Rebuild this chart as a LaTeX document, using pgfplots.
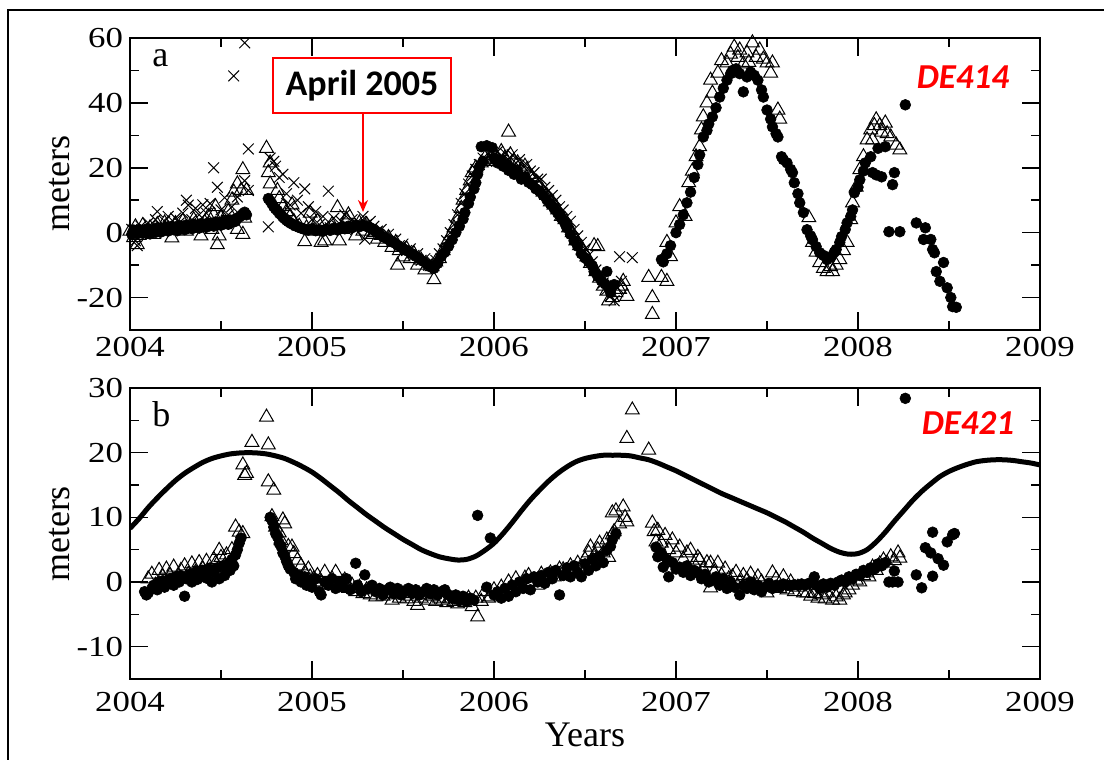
\documentclass[border=0pt]{standalone}
\usepackage{pgfplots}
\pgfplotsset{compat=1.18}
\usepackage{fontspec}
\setmainfont{Liberation Serif}
\newfontfamily\tickfont[FakeStretch=1.2]{Liberation Serif}
\newfontfamily\calib{Carlito}
\usetikzlibrary{arrows.meta}
\definecolor{rd}{RGB}{255,0,0}
\pgfplotsset{
  panel/.style={
    anchor=south west, scale only axis, width=455pt,
    xmin=2004, xmax=2009,
    xtick={2004,2005,2006,2007,2008,2009}, minor x tick num=1,
    minor y tick num=1,
    tick align=inside, major tick length=9pt, minor tick length=4.5pt,
    axis line style={line width=0.75pt}, every tick/.style={line width=0.75pt, black},
    /pgf/number format/assume math mode=true,
    /pgf/number format/1000 sep={},
    tick label style={font=\tickfont\fontsize{14.5}{16}\selectfont},
    clip mode=individual,
  },
  circ/.style={only marks, mark=*, mark size=2.7pt, mark options={draw=black, fill=black, line width=0.3pt}},
  tri/.style={only marks, mark=triangle, mark size=4pt, mark options={draw=black, line width=0.5pt}},
  crs/.style={only marks, mark=x, mark size=3.8pt, mark options={draw=black, line width=0.5pt}},
}
\begin{document}
\begin{tikzpicture}
% ---------------- panel a ----------------
\begin{axis}[panel, at={(65pt,215pt)}, height=146pt, ymin=-30, ymax=60, ytick={-20,0,20,40,60}]
\addplot[circ] coordinates {
(2004.01,-0.5)(2004.02,0.8)(2004.03,0.2)(2004.04,-0.3)(2004.05,1.0)(2004.06,0.5)(2004.07,-0.2)(2004.08,0.9)(2004.09,0.3)(2004.10,1.2)
(2004.11,-0.4)(2004.12,0.6)(2004.13,1.0)(2004.14,0.1)(2004.15,1.5)(2004.16,0.7)(2004.17,0.2)(2004.18,1.3)(2004.19,0.8)(2004.20,1.6)
(2004.21,0.5)(2004.22,1.1)(2004.23,2.0)(2004.24,0.9)(2004.25,1.4)(2004.26,0.6)(2004.27,2.2)(2004.28,1.3)(2004.29,1.8)(2004.30,0.9)
(2004.31,2.4)(2004.32,1.5)(2004.33,2.0)(2004.34,1.2)(2004.35,2.6)(2004.36,1.8)(2004.37,2.3)(2004.38,1.4)(2004.39,2.8)(2004.40,2.0)
(2004.41,2.5)(2004.42,1.7)(2004.43,3.0)(2004.44,2.2)(2004.45,2.8)(2004.46,2.0)(2004.47,3.3)(2004.48,2.5)(2004.49,3.1)(2004.50,2.3)
(2004.51,3.5)(2004.52,2.8)(2004.53,3.4)(2004.54,2.6)(2004.55,3.9)(2004.56,3.2)(2004.57,4.0)(2004.58,3.5)(2004.59,4.5)(2004.60,4.8)
(2004.61,5.2)(2004.62,5.8)(2004.63,6.3)(2004.64,5.5)
(2004.76,10.5)(2004.77,9.8)(2004.78,8.9)(2004.79,8.0)(2004.80,7.3)(2004.81,6.8)(2004.82,6.0)(2004.83,5.5)(2004.84,4.8)(2004.85,4.3)
(2004.86,3.8)(2004.87,3.4)(2004.88,3.0)(2004.89,2.7)(2004.90,2.4)(2004.91,2.1)(2004.92,1.9)(2004.93,1.6)(2004.94,1.4)(2004.95,1.3)
(2004.96,1.0)(2004.98,0.8)(2005.00,1.2)(2005.02,0.6)(2005.04,0.9)(2005.06,0.4)(2005.08,1.1)(2005.10,0.7)(2005.12,1.4)(2005.14,0.8)
(2005.16,1.6)(2005.18,1.2)(2005.20,2.0)(2005.22,1.5)(2005.24,2.3)(2005.26,1.8)(2005.28,2.4)(2005.30,1.9)(2005.32,1.5)(2005.34,0.8)
(2005.33,1.2)(2005.35,0.3)(2005.37,-0.5)(2005.39,-1.2)(2005.41,-1.8)(2005.43,-2.6)(2005.45,-3.1)(2005.47,-3.9)(2005.49,-4.5)(2005.51,-5.2)
(2005.53,-5.8)(2005.55,-6.5)(2005.57,-7.3)(2005.59,-8.0)(2005.61,-8.8)(2005.63,-9.6)(2005.65,-10.5)(2005.67,-11.0)(2005.69,-9.5)(2005.71,-7.4)
(2005.73,-6.0)(2005.75,-4.2)(2005.77,-2.2)(2005.79,0.0)(2005.81,2.0)(2005.83,4.2)(2005.84,6.2)(2005.86,9.0)(2005.87,11.0)(2005.89,13.5)
(2005.90,15.4)(2005.91,18.0)(2005.92,20.3)(2005.94,22.0)(2005.93,26.5)(2005.96,26.8)(2005.99,26.2)(2006.00,23.0)(2006.02,21.5)(2006.04,22.3)
(2006.05,20.5)(2006.07,21.0)(2006.08,19.2)(2006.10,19.8)(2006.11,18.0)(2006.13,18.8)(2006.15,16.5)(2006.17,17.2)(2006.19,15.5)(2006.21,14.8)
(2006.23,13.5)(2006.25,12.8)(2006.27,11.5)(2006.29,10.2)(2006.31,8.8)(2006.33,7.5)(2006.35,6.0)(2006.37,4.5)(2006.39,2.8)(2006.40,1.5)
(2006.42,-0.5)(2006.44,-2.5)(2006.46,-4.2)(2006.48,-6.5)(2006.50,-7.8)(2006.52,-9.0)(2006.54,-10.2)(2006.55,-12.0)(2006.57,-13.5)(2006.59,-14.8)
(2006.61,-15.8)(2006.63,-17.0)(2006.64,-18.5)(2006.66,-16.0)(2006.62,-12.0)
(2006.92,-8.3)(2006.93,-9.0)(2006.95,-6.5)(2006.97,-4.0)(2007.00,0.0)(2007.02,2.5)(2007.04,5.5)(2007.06,9.2)(2007.08,12.5)(2007.10,17.0)
(2007.12,21.0)(2007.13,24.0)(2007.15,29.5)(2007.17,31.5)(2007.18,33.5)(2007.20,35.7)(2007.22,38.5)(2007.24,41.8)(2007.26,44.5)(2007.28,47.0)
(2007.30,49.0)(2007.31,50.0)(2007.33,50.5)(2007.35,49.0)(2007.37,43.4)(2007.39,48.0)(2007.41,49.5)(2007.43,48.5)(2007.45,47.0)(2007.47,44.0)
(2007.48,41.8)(2007.50,37.8)(2007.52,35.0)(2007.53,32.6)(2007.55,30.5)(2007.56,29.5)(2007.58,23.4)(2007.59,22.5)(2007.61,21.5)(2007.63,19.5)
(2007.64,18.5)(2007.65,15.4)(2007.67,12.0)(2007.68,9.2)(2007.70,6.2)(2007.72,0.9)(2007.74,-1.0)(2007.75,-2.2)(2007.77,-4.3)(2007.79,-6.2)
(2007.81,-7.0)(2007.83,-8.3)(2007.85,-7.4)(2007.87,-6.0)(2007.88,-5.2)(2007.90,-3.0)(2007.91,-1.2)(2007.93,1.0)(2007.94,3.0)(2007.96,5.0)
(2007.97,7.0)(2007.98,12.3)(2008.00,14.0)(2008.01,16.3)(2008.03,19.0)(2008.04,21.5)(2008.07,23.4)(2008.08,18.5)(2008.10,17.8)(2008.11,26.0)
(2008.13,17.2)(2008.15,26.5)(2008.17,0.3)(2008.19,14.8)(2008.20,18.5)(2008.23,0.3)(2008.26,39.4)(2008.32,3.0)(2008.36,-2.1)(2008.37,1.5)
(2008.40,-2.1)(2008.41,-5.2)(2008.42,-6.2)(2008.43,-12.0)(2008.45,-15.0)(2008.47,-9.2)(2008.49,-17.0)(2008.51,-20.0)(2008.52,-22.8)(2008.54,-23.0)
};
\addplot[tri] coordinates {
(2004.00,0.5)(2004.02,-1.5)(2004.03,1.8)(2004.04,-3.7)(2004.05,-0.8)(2004.07,2.2)(2004.09,0.0)(2004.11,1.5)(2004.13,-0.5)(2004.15,2.5)(2004.17,0.8)
(2004.19,3.0)(2004.21,1.2)(2004.23,-1.6)(2004.25,2.8)(2004.27,1.0)(2004.29,3.5)(2004.31,0.5)(2004.33,2.0)(2004.35,4.0)(2004.37,1.5)
(2004.39,-1.0)(2004.41,3.2)(2004.43,5.0)(2004.45,1.0)(2004.46,5.4)(2004.47,8.0)(2004.48,-3.7)(2004.49,-1.0)(2004.50,4.5)(2004.52,2.5)(2004.54,6.5)
(2004.56,10.0)(2004.57,12.5)(2004.62,19.4)(2004.59,15.0)(2004.59,1.0)(2004.61,13.0)(2004.62,-0.5)(2004.63,4.5)(2004.64,13.0)
(2004.75,26.0)(2004.77,21.5)(2004.76,18.5)(2004.77,15.0)(2004.81,13.0)(2004.82,10.5)(2004.84,8.0)(2004.86,6.5)(2004.88,5.0)(2004.89,8.6)
(2004.90,3.5)(2004.93,2.0)(2004.96,-2.8)(2004.97,1.5)(2004.99,6.0)(2005.01,0.5)(2005.03,3.5)(2005.05,-3.0)(2005.07,-2.5)(2005.09,1.0)
(2005.11,2.5)(2005.14,7.7)(2005.15,-2.5)(2005.17,1.0)(2005.19,4.0)(2005.20,5.5)(2005.22,2.0)(2005.24,-1.0)(2005.26,3.0)(2005.28,0.5)
(2005.30,2.5)(2005.32,-0.5)
(2005.34,0.0)(2005.36,-2.0)(2005.38,-0.8)(2005.40,-3.0)(2005.42,-1.5)(2005.44,-4.5)(2005.46,-3.0)(2005.47,-10.0)(2005.48,-5.5)(2005.50,-7.5)
(2005.52,-5.0)(2005.54,-8.0)(2005.56,-6.5)(2005.58,-10.0)(2005.60,-8.5)(2005.62,-11.5)(2005.67,-14.5)(2005.66,-10.5)(2005.68,-9.0)(2005.70,-8.0)
(2005.72,-5.5)(2005.74,-3.0)(2005.76,-1.0)(2005.78,1.5)(2005.80,4.5)(2005.82,7.5)(2005.83,10.0)(2005.85,13.0)(2005.87,16.0)(2005.88,18.5)
(2005.90,20.0)(2005.93,21.5)(2005.95,23.0)(2005.97,22.0)(2006.00,24.5)(2006.02,22.5)(2006.04,25.0)(2006.06,23.0)(2006.08,31.0)(2006.09,24.0)
(2006.11,22.0)(2006.13,21.5)(2006.15,19.5)(2006.17,20.5)(2006.19,18.0)(2006.21,17.0)(2006.23,15.5)(2006.25,14.5)(2006.27,12.5)(2006.29,11.5)
(2006.31,9.5)(2006.33,8.5)(2006.35,7.0)(2006.37,5.0)(2006.39,4.0)(2006.41,1.5)(2006.43,0.0)(2006.45,-2.5)(2006.47,-4.0)(2006.49,-5.5)
(2006.51,-7.5)(2006.53,-9.5)(2006.55,-4.0)(2006.57,-4.3)(2006.56,-12.0)(2006.58,-14.0)(2006.60,-16.5)(2006.62,-18.0)(2006.63,-21.0)(2006.65,-20.0)
(2006.67,-18.5)(2006.69,-17.5)(2006.70,-16.5)(2006.71,-15.0)(2006.73,-19.6)
(2006.85,-13.8)(2006.87,-20.0)(2006.87,-25.2)(2006.92,-13.8)(2006.95,-15.0)(2006.97,-7.4)(2006.95,-3.0)(2007.00,3.0)(2007.02,8.0)(2007.05,5.0)
(2007.07,15.4)(2007.09,19.0)(2007.11,23.4)(2007.13,26.5)(2007.14,31.7)(2007.15,35.7)(2007.17,40.0)(2007.20,43.0)(2007.19,47.0)(2007.23,49.2)
(2007.25,53.0)(2007.28,52.3)(2007.30,55.0)(2007.32,57.2)(2007.34,54.0)(2007.35,56.3)(2007.37,52.0)(2007.39,55.4)(2007.40,52.5)(2007.42,58.5)
(2007.44,54.0)(2007.46,56.3)(2007.48,53.5)(2007.50,52.3)(2007.52,49.2)(2007.53,52.3)(2007.56,37.8)(2007.57,35.0)
(2007.73,4.6)(2007.75,-3.0)(2007.77,-6.0)(2007.79,-9.2)(2007.81,-11.0)(2007.83,-12.0)(2007.85,-10.5)(2007.86,-12.0)(2007.88,-10.0)(2007.90,-8.3)
(2007.92,-5.5)(2007.94,-3.0)(2007.96,4.0)(2007.97,9.2)(2007.99,14.0)(2008.01,19.4)(2008.03,23.4)(2008.05,28.6)(2008.07,31.7)(2008.08,28.6)
(2008.09,33.0)(2008.10,34.8)(2008.12,33.0)(2008.13,31.0)(2008.15,33.8)(2008.16,30.5)(2008.18,29.5)(2008.21,27.0)(2008.23,25.5)
};
\addplot[crs] coordinates {
(2004.01,1.0)(2004.03,-2.5)(2004.04,-4.0)(2004.06,2.0)(2004.08,0.5)(2004.10,3.0)(2004.12,1.0)(2004.14,4.0)(2004.15,6.5)(2004.17,2.0)
(2004.19,3.5)(2004.21,5.0)(2004.23,1.5)(2004.25,4.5)(2004.27,3.0)(2004.29,6.0)(2004.31,10.0)(2004.32,8.5)(2004.34,4.0)(2004.36,7.5)
(2004.38,5.5)(2004.40,8.6)(2004.42,6.0)(2004.44,9.0)(2004.46,20.0)(2004.48,14.0)(2004.50,7.0)(2004.52,10.8)(2004.54,5.5)(2004.56,8.0)
(2004.57,48.3)(2004.59,11.0)(2004.63,58.5)(2004.63,16.0)(2004.65,25.8)(2004.65,13.0)
(2004.76,1.8)(2004.77,23.0)(2004.79,22.0)(2004.80,20.5)(2004.82,17.0)(2004.84,18.0)(2004.86,12.0)(2004.88,8.5)(2004.90,15.4)(2004.92,10.0)
(2004.94,6.0)(2004.96,13.5)(2004.98,8.0)(2005.00,4.0)(2005.02,6.5)(2005.04,2.5)(2005.06,5.0)(2005.09,12.8)(2005.10,1.5)(2005.12,4.5)
(2005.14,2.0)(2005.16,3.5)(2005.18,5.5)(2005.20,2.0)(2005.22,4.0)(2005.24,1.0)(2005.26,3.0)(2005.28,5.0)(2005.29,-2.0)(2005.30,2.5)(2005.32,3.5)
(2005.34,2.0)(2005.36,0.5)(2005.38,1.0)(2005.40,-1.0)(2005.42,-0.5)(2005.44,-2.5)(2005.46,-2.0)(2005.48,-4.0)(2005.50,-3.5)(2005.52,-5.5)
(2005.54,-5.0)(2005.56,-7.0)(2005.58,-6.5)(2005.60,-8.5)(2005.62,-8.0)(2005.64,-10.0)(2005.66,-9.0)(2005.68,-8.5)(2005.70,-6.5)(2005.72,-5.0)
(2005.74,-2.5)(2005.76,0.0)(2005.78,2.5)(2005.80,5.5)(2005.82,9.0)(2005.84,12.0)(2005.86,15.0)(2005.88,17.5)(2005.90,19.5)(2005.92,21.0)
(2005.94,23.0)(2005.96,22.0)(2005.98,24.0)(2006.00,22.5)(2006.02,25.0)(2006.04,23.5)(2006.06,24.5)(2006.08,22.5)(2006.10,24.0)(2006.12,21.5)
(2006.14,22.5)(2006.16,20.5)(2006.18,21.0)(2006.20,19.0)(2006.22,18.5)(2006.24,16.5)(2006.26,16.5)(2006.28,14.0)(2006.30,13.0)(2006.32,11.5)
(2006.34,10.0)(2006.36,8.0)(2006.38,7.0)(2006.40,5.0)(2006.42,3.5)(2006.44,1.0)(2006.46,-1.0)(2006.48,-3.0)(2006.50,-5.0)(2006.52,-7.0)
(2006.54,-9.0)(2006.56,-11.5)(2006.58,-13.0)(2006.60,-15.5)(2006.62,-17.5)(2006.64,-19.5)(2006.66,-21.0)(2006.68,-17.0)(2006.70,-15.0)
(2006.69,-7.4)(2006.76,-7.7)
};
\end{axis}
% ---------------- panel b ----------------
\begin{axis}[panel, at={(65pt,40.5pt)}, height=145.5pt, ymin=-15, ymax=30, ytick={-10,0,10,20,30},
  xticklabel style={yshift=-3pt}]
\addplot[black, line width=2.5pt, smooth] coordinates {
(2004.00,8.3)(2004.05,9.8)(2004.10,11.5)(2004.15,13.0)(2004.20,14.4)(2004.25,15.7)(2004.30,16.8)(2004.35,17.7)(2004.40,18.5)(2004.45,19.1)
(2004.50,19.5)(2004.55,19.8)(2004.60,19.95)(2004.65,20.0)(2004.70,19.95)(2004.75,19.8)(2004.80,19.5)(2004.85,19.1)(2004.90,18.5)(2004.95,17.8)
(2005.00,17.0)(2005.05,16.0)(2005.10,14.9)(2005.15,13.8)(2005.20,12.6)(2005.25,11.5)(2005.30,10.4)(2005.35,9.4)(2005.40,8.4)(2005.45,7.5)
(2005.50,6.6)(2005.55,5.8)(2005.60,5.0)(2005.65,4.4)(2005.70,3.9)(2005.75,3.6)(2005.80,3.4)(2005.85,3.5)(2005.90,4.0)(2005.95,4.9)
(2006.00,6.0)(2006.05,7.5)(2006.10,9.2)(2006.15,11.0)(2006.20,12.7)(2006.25,14.2)(2006.30,15.6)(2006.35,16.8)(2006.40,17.8)(2006.45,18.6)
(2006.50,19.1)(2006.55,19.4)(2006.60,19.6)(2006.65,19.6)(2006.70,19.6)(2006.75,19.5)(2006.80,19.2)(2006.85,18.9)(2006.90,18.4)(2006.95,17.8)
(2007.00,17.2)(2007.05,16.5)(2007.10,15.8)(2007.15,15.1)(2007.20,14.4)(2007.25,13.7)(2007.30,13.1)(2007.35,12.5)(2007.40,11.9)(2007.45,11.3)
(2007.50,10.7)(2007.55,10.0)(2007.60,9.3)(2007.65,8.5)(2007.70,7.7)(2007.75,6.8)(2007.80,6.0)(2007.85,5.2)(2007.90,4.6)(2007.95,4.3)
(2008.00,4.4)(2008.05,5.0)(2008.10,6.2)(2008.15,7.7)(2008.20,9.4)(2008.25,11.0)(2008.30,12.6)(2008.35,14.0)(2008.40,15.2)(2008.45,16.3)
(2008.50,17.1)(2008.55,17.7)(2008.60,18.2)(2008.65,18.6)(2008.70,18.8)(2008.75,18.9)(2008.80,18.9)(2008.85,18.8)(2008.90,18.6)(2008.95,18.4)(2009.00,18.1)
};
\addplot[circ] coordinates {
(2004.08,-1.5)(2004.09,-2.0)(2004.10,-1.7)(2004.12,-1.0)(2004.13,-0.5)(2004.15,-1.2)(2004.16,0.0)(2004.18,0.2)(2004.19,-0.8)(2004.21,-0.3)
(2004.22,0.5)(2004.24,-0.5)(2004.25,0.8)(2004.27,0.0)(2004.28,1.0)(2004.30,-2.2)(2004.31,0.5)(2004.33,1.2)(2004.34,0.0)(2004.36,1.5)
(2004.37,0.4)(2004.39,1.0)(2004.40,1.8)(2004.42,0.6)(2004.43,2.0)(2004.45,0.0)(2004.46,1.5)(2004.48,2.2)(2004.49,0.5)(2004.51,2.5)
(2004.52,1.0)(2004.54,2.8)(2004.55,1.8)(2004.56,3.5)(2004.57,2.5)(2004.58,4.2)(2004.59,5.0)(2004.60,6.0)(2004.61,6.8)
(2004.77,10.0)(2004.78,9.5)(2004.79,8.5)(2004.80,7.5)(2004.81,7.0)(2004.82,6.0)(2004.83,5.5)(2004.84,4.5)(2004.85,4.0)(2004.86,3.2)
(2004.87,2.5)(2004.88,2.0)(2004.90,1.5)(2004.91,0.5)(2004.93,1.0)(2004.94,0.0)(2004.96,0.8)(2004.97,-0.5)(2004.99,0.3)(2005.00,-0.8)
(2005.02,0.5)(2005.04,-1.5)(2005.05,-2.0)(2005.07,0.0)(2005.09,-0.5)(2005.11,0.5)(2005.13,-1.0)(2005.15,0.0)(2005.17,-0.8)(2005.19,0.5)
(2005.21,-1.2)(2005.24,2.9)(2005.25,-0.5)(2005.27,-1.5)(2005.29,1.1)(2005.31,-1.0)(2005.33,-0.5)(2005.35,-1.5)(2005.37,-1.0)(2005.39,-2.0)
(2005.41,-1.2)(2005.43,-0.8)(2005.45,-1.8)(2005.47,-1.0)(2005.49,-2.0)(2005.51,-1.5)(2005.53,-1.0)(2005.55,-1.8)(2005.57,-1.2)(2005.59,-2.0)
(2005.61,-1.5)(2005.63,-1.0)(2005.65,-1.8)(2005.67,-1.2)(2005.69,-2.0)(2005.71,-1.5)(2005.73,-1.2)(2005.75,-2.0)(2005.77,-2.5)(2005.79,-2.0)
(2005.81,-2.8)(2005.83,-2.2)(2005.85,-3.0)(2005.87,-2.5)(2005.89,-2.8)
(2005.91,10.3)(2005.96,-0.8)(2005.98,6.8)(2006.00,-2.0)(2006.02,-1.5)(2006.04,-2.5)(2006.06,-1.0)(2006.08,-2.2)(2006.10,-0.5)(2006.12,-1.5)
(2006.14,0.0)(2006.16,-1.0)(2006.18,0.5)(2006.20,-1.2)(2006.22,0.8)(2006.24,0.0)(2006.26,1.0)(2006.28,-0.2)(2006.30,1.5)(2006.32,0.5)
(2006.34,1.8)(2006.36,-2.0)(2006.38,1.0)(2006.40,2.2)(2006.42,0.8)(2006.44,2.5)(2006.46,1.5)(2006.48,0.8)(2006.50,2.8)(2006.52,1.8)
(2006.54,3.5)(2006.56,2.5)(2006.58,4.0)(2006.60,3.0)(2006.62,4.9)(2006.64,5.5)(2006.65,6.5)(2006.67,7.5)
(2006.89,5.4)(2006.90,3.9)(2006.92,4.5)(2006.93,2.3)(2006.95,3.5)(2006.96,0.8)(2006.98,3.0)(2007.00,2.0)(2007.02,2.3)(2007.04,1.5)
(2007.06,2.5)(2007.08,1.0)(2007.10,1.8)(2007.12,1.4)(2007.14,0.5)(2007.16,1.2)(2007.18,0.0)(2007.20,0.3)(2007.22,0.8)(2007.24,-0.5)
(2007.26,0.5)(2007.28,-1.0)(2007.30,0.0)(2007.32,-0.8)(2007.35,-2.0)(2007.37,-0.5)(2007.39,-1.0)(2007.41,0.0)(2007.43,-1.2)(2007.45,-0.5)
(2007.47,-1.5)(2007.49,-0.8)(2007.51,-0.2)(2007.53,-1.0)(2007.55,-0.5)(2007.57,-0.8)(2007.59,-0.3)(2007.61,-0.5)(2007.63,-0.6)(2007.65,-0.4)
(2007.67,-0.5)(2007.69,-0.3)(2007.71,-0.5)(2007.73,-0.2)(2007.76,0.8)(2007.77,-0.5)(2007.79,-1.0)(2007.81,-0.3)(2007.83,-0.8)(2007.85,-0.2)
(2007.87,-0.5)(2007.89,0.0)(2007.91,0.3)(2007.93,0.0)(2007.95,0.8)(2007.97,0.5)(2007.99,1.2)(2008.01,1.0)(2008.03,1.8)(2008.05,1.5)
(2008.07,2.2)(2008.09,2.0)(2008.11,2.8)(2008.13,2.5)(2008.15,3.0)(2008.17,0.0)(2008.19,0.0)(2008.20,1.7)(2008.22,0.0)(2008.26,28.4)
(2008.32,1.1)(2008.35,-0.9)(2008.37,5.3)(2008.40,4.5)(2008.41,7.7)(2008.41,0.9)(2008.44,3.6)(2008.47,2.6)(2008.49,6.2)(2008.52,7.3)(2008.53,7.5)
};
\addplot[tri] coordinates {
(2004.10,0.5)(2004.12,1.2)(2004.14,-0.5)(2004.16,1.8)(2004.18,0.8)(2004.20,2.0)(2004.22,1.0)(2004.24,2.3)(2004.26,0.5)(2004.28,1.8)
(2004.30,2.5)(2004.32,1.2)(2004.34,2.8)(2004.36,1.5)(2004.38,3.0)(2004.40,2.0)(2004.42,3.2)(2004.44,1.8)(2004.46,3.5)(2004.47,2.9)
(2004.49,4.9)(2004.50,3.8)(2004.52,2.5)(2004.53,4.2)(2004.55,2.9)(2004.56,5.0)(2004.58,8.5)(2004.60,7.7)(2004.62,7.5)(2004.62,18.1)
(2004.63,16.5)(2004.64,16.8)(2004.67,21.6)(2004.75,25.5)(2004.76,21.2)(2004.76,15.5)(2004.79,14.2)
(2004.78,10.1)(2004.80,8.5)(2004.82,7.6)(2004.83,6.4)(2004.84,9.6)(2004.85,9.0)(2004.87,5.5)(2004.89,5.4)(2004.90,4.4)(2004.92,3.4)
(2004.94,2.5)(2004.96,1.4)(2004.98,2.0)(2004.99,0.8)(2005.01,0.5)(2005.03,1.0)(2005.05,0.0)(2005.07,1.5)(2005.09,-0.5)(2005.11,0.5)
(2005.13,1.5)(2005.15,-0.8)(2005.17,0.0)(2005.18,0.3)(2005.20,-1.0)(2005.22,-0.5)(2005.24,-1.5)(2005.26,-0.8)(2005.28,-1.8)(2005.30,-1.2)
(2005.32,-2.0)(2005.35,-2.3)(2005.37,-1.5)(2005.39,-2.2)(2005.41,-1.8)(2005.44,-2.8)(2005.46,-2.0)(2005.48,-2.5)(2005.50,-1.8)(2005.52,-2.6)
(2005.54,-2.2)(2005.56,-3.0)(2005.58,-3.6)(2005.60,-2.5)(2005.62,-2.0)(2005.64,-2.8)(2005.66,-2.2)(2005.68,-3.0)(2005.70,-2.5)(2005.72,-2.8)
(2005.74,-3.2)(2005.76,-2.6)(2005.78,-3.0)(2005.80,-3.4)(2005.82,-2.8)(2005.84,-3.2)(2005.86,-2.5)(2005.88,-3.8)(2005.90,-2.5)(2005.91,-5.4)
(2005.93,-3.0)(2005.95,-1.5)(2005.97,-2.5)
(2005.98,-2.3)(2006.00,-1.2)(2006.02,-2.0)(2006.04,-0.8)(2006.06,-1.5)(2006.08,0.0)(2006.10,-1.0)(2006.12,0.5)(2006.14,-0.5)(2006.17,0.6)
(2006.19,1.0)(2006.21,0.0)(2006.24,-0.5)(2006.26,1.2)(2006.28,0.5)(2006.31,1.4)(2006.33,0.8)(2006.36,2.0)(2006.38,1.9)(2006.40,1.0)
(2006.42,2.5)(2006.44,1.8)(2006.46,2.9)(2006.48,2.2)(2006.50,3.5)(2006.52,4.5)(2006.53,5.4)(2006.55,4.0)(2006.57,5.0)(2006.58,6.0)
(2006.60,4.5)(2006.62,6.5)(2006.63,3.8)(2006.65,7.3)(2006.65,10.7)(2006.66,7.8)(2006.67,11.0)(2006.69,9.0)(2006.71,11.6)(2006.72,10.0)
(2006.73,9.3)(2006.73,22.2)(2006.76,26.6)(2006.85,20.4)(2006.87,9.1)(2006.88,7.8)(2006.89,6.2)(2006.90,8.0)(2006.92,6.0)(2006.94,7.2)
(2006.96,5.0)(2006.98,6.5)(2007.00,4.5)(2007.02,5.4)(2007.04,3.5)(2007.06,4.5)(2007.08,4.9)(2007.10,2.8)(2007.12,3.8)(2007.13,3.4)
(2007.15,2.0)(2007.17,3.0)(2007.19,2.9)(2007.19,-0.9)(2007.21,1.5)(2007.23,2.9)(2007.25,1.0)(2007.27,2.0)(2007.29,0.5)(2007.31,0.8)
(2007.33,1.5)(2007.35,0.0)(2007.37,1.0)(2007.39,0.3)(2007.41,1.2)(2007.43,-0.5)(2007.45,0.8)(2007.47,0.0)(2007.50,-1.7)(2007.53,1.4)
(2007.55,0.5)(2007.57,-1.0)(2007.59,0.8)(2007.61,-1.2)(2007.63,0.0)(2007.65,-1.5)(2007.67,-0.8)(2007.70,-1.7)(2007.72,-1.7)(2007.74,-2.2)
(2007.76,-1.8)(2007.78,-2.5)(2007.80,-2.0)(2007.82,-2.6)(2007.83,-1.7)(2007.86,-2.8)(2007.88,-2.3)(2007.90,-2.8)(2007.92,-2.0)(2007.93,-1.7)
(2007.95,-1.2)(2007.97,-0.5)(2007.99,0.3)(2008.01,0.0)(2008.03,1.0)(2008.05,1.4)(2008.06,0.8)(2008.08,2.3)(2008.10,1.8)(2008.12,2.8)
(2008.14,3.4)(2008.16,2.9)(2008.18,3.9)(2008.20,3.3)(2008.22,4.5)(2008.23,3.7)
};
\end{axis}
% ---------------- labels and annotations (0.5pt per reference pixel) ----------------
\begin{scope}[x=0.5pt,y=0.5pt]
\begin{scope}[font=\fontsize{18}{21}\selectfont]
\node[rotate=90] at (60,576) {meters};
\node[rotate=90] at (60,226) {meters};
\node at (585,25) {Years};
\node[anchor=base west, inner sep=0pt] at (152,693) {a};
\node[anchor=base west, inner sep=0pt] at (152,333) {b};
\end{scope}
\node[draw=rd, line width=1.2pt, fill=white, minimum width=89pt, minimum height=27.5pt, inner sep=0pt,
      font=\calib\bfseries\fontsize{18}{21}\selectfont] at (362,674.5) {April 2005};
\draw[rd, line width=1pt, -{Stealth[length=6pt,width=5pt]}] (363,647) -- (363,548);
\node[anchor=base, inner sep=0pt, text=rd, font=\calib\bfseries\itshape\fontsize{17.5}{20}\selectfont] at (963,671) {DE414};
\node[anchor=base, inner sep=0pt, text=rd, font=\calib\bfseries\itshape\fontsize{17.5}{20}\selectfont] at (968,325) {DE421};
\draw[line width=1pt] (8,0) -- (8,750) -- (1104,750);
\pgfresetboundingbox
\path[use as bounding box] (0,0) rectangle (1104,760);
\end{scope}
\end{tikzpicture}
\end{document}
